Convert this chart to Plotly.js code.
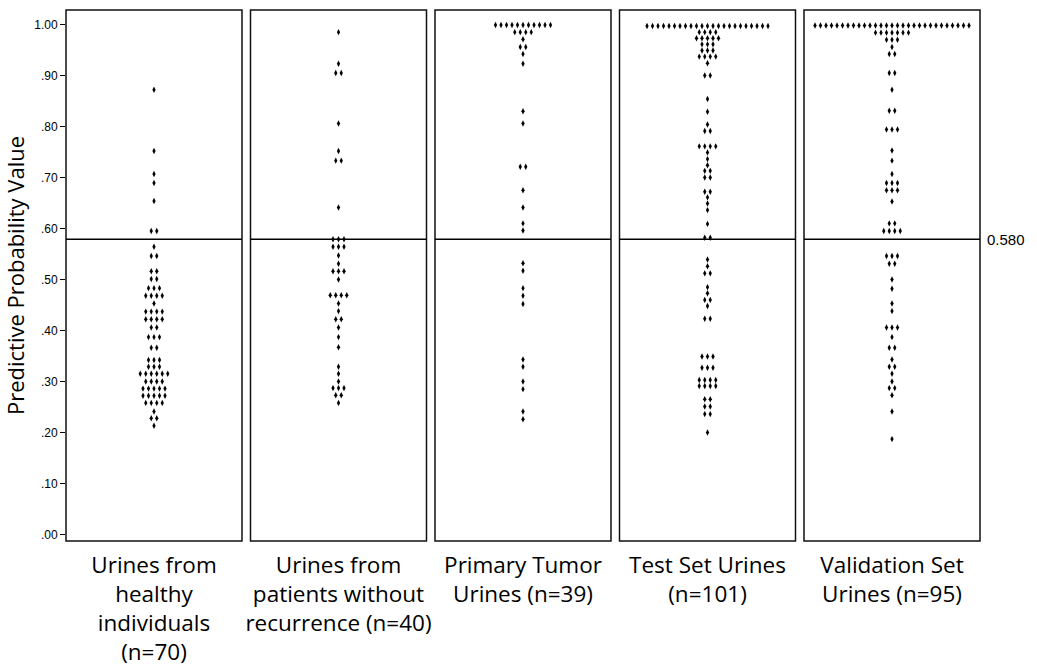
<!DOCTYPE html>
<html><head><meta charset="utf-8">
<script src="https://cdn.plot.ly/plotly-3.0.1.min.js"></script>
<style>html,body{margin:0;padding:0;background:#fff}#chart{width:1037px;height:667px}</style>
</head><body><div id="chart"></div>
<script>
// ---------- DATA ----------
const categories = [
  "Urines from<br>healthy<br>individuals<br>(n=70)",
  "Urines from<br>patients without<br>recurrence (n=40)",
  "Primary Tumor<br>Urines (n=39)",
  "Test Set Urines<br>(n=101)",
  "Validation Set<br>Urines (n=95)"
];

const healthyValues = [
  0.873, 0.753, 0.708, 0.690, 0.655, 0.596, 0.596, 0.565, 0.547, 0.547,
  0.517, 0.517, 0.502, 0.502, 0.484, 0.484, 0.484, 0.469, 0.469, 0.469, 0.469,
  0.454, 0.438, 0.438, 0.438, 0.438, 0.423, 0.423, 0.423, 0.423, 0.407, 0.407,
  0.388, 0.388, 0.388, 0.367, 0.367, 0.343, 0.343, 0.343, 0.330, 0.330, 0.330,
  0.316, 0.316, 0.316, 0.316, 0.316, 0.316, 0.301, 0.301, 0.301, 0.301,
  0.287, 0.287, 0.287, 0.287, 0.287, 0.273, 0.273, 0.273, 0.273, 0.273,
  0.259, 0.259, 0.259, 0.259, 0.242, 0.229, 0.229, 0.214
];

const noRecurrenceValues = [
  0.986, 0.924, 0.906, 0.906, 0.807, 0.753, 0.734, 0.734, 0.642,
  0.580, 0.580, 0.580, 0.565, 0.565, 0.565, 0.548, 0.532, 0.517, 0.517, 0.517,
  0.501, 0.470, 0.470, 0.470, 0.470, 0.454, 0.439, 0.423, 0.423, 0.407, 0.388,
  0.368, 0.330, 0.316, 0.301, 0.288, 0.288, 0.288, 0.274, 0.274, 0.259
];

const primaryTumorValues = [
  1.000, 1.000, 1.000, 1.000, 1.000, 1.000, 1.000, 1.000, 1.000, 1.000, 1.000,
  0.986, 0.986, 0.986, 0.986, 0.972, 0.957, 0.957, 0.943, 0.924,
  0.831, 0.807, 0.722, 0.722, 0.676, 0.642, 0.611, 0.597,
  0.533, 0.518, 0.484, 0.469, 0.453, 0.344, 0.330, 0.301, 0.286, 0.242, 0.227
];

const testSetValues = [
  0.998, 0.998, 0.998, 0.998, 0.998, 0.998, 0.998, 0.998, 0.998, 0.998, 0.998, 0.998,
  0.998, 0.998, 0.998, 0.998, 0.998, 0.998, 0.998, 0.998, 0.998, 0.998, 0.998,
  0.986, 0.986, 0.986, 0.986, 0.974, 0.974, 0.974, 0.974, 0.974,
  0.962, 0.962, 0.962, 0.950, 0.950, 0.950, 0.938, 0.938, 0.938, 0.938,
  0.925, 0.901, 0.901, 0.855, 0.830, 0.805, 0.792, 0.792,
  0.762, 0.762, 0.762, 0.762, 0.750, 0.737, 0.725, 0.714, 0.714, 0.701, 0.701,
  0.673, 0.673, 0.662, 0.650, 0.637, 0.610, 0.583, 0.583,
  0.540, 0.527, 0.513, 0.513, 0.486, 0.474, 0.461, 0.461, 0.449, 0.424, 0.424,
  0.350, 0.350, 0.350, 0.328, 0.328, 0.328, 0.304, 0.304, 0.304, 0.304,
  0.292, 0.292, 0.292, 0.292, 0.266, 0.266, 0.252, 0.252, 0.237, 0.237, 0.201
];

const validationSetValues = [
  0.999, 0.999, 0.999, 0.999, 0.999, 0.999, 0.999, 0.999, 0.999, 0.999,
  0.999, 0.999, 0.999, 0.999, 0.999, 0.999, 0.999, 0.999, 0.999, 0.999,
  0.999, 0.999, 0.999, 0.999, 0.999, 0.999, 0.999, 0.999, 0.999,
  0.985, 0.985, 0.985, 0.985, 0.985, 0.985, 0.985, 0.971, 0.971, 0.971,
  0.957, 0.943, 0.943, 0.906, 0.906, 0.873, 0.832, 0.832, 0.795, 0.795, 0.795,
  0.754, 0.734, 0.708, 0.690, 0.690, 0.690, 0.676, 0.676, 0.676, 0.654,
  0.611, 0.611, 0.596, 0.596, 0.596, 0.596,
  0.547, 0.547, 0.547, 0.532, 0.532, 0.501, 0.483, 0.454, 0.439,
  0.407, 0.407, 0.407, 0.388, 0.367, 0.367, 0.344, 0.330, 0.330, 0.316,
  0.301, 0.288, 0.288, 0.274, 0.242, 0.188
];

const groups = [healthyValues, noRecurrenceValues, primaryTumorValues, testSetValues, validationSetValues];

const yTickValues = [0, 0.1, 0.2, 0.3, 0.4, 0.5, 0.6, 0.7, 0.8, 0.9, 1.0];
const yTickLabels = [".00", ".10", ".20", ".30", ".40", ".50", ".60", ".70", ".80", ".90", "1.00"];
const cutoffValue = 0.58;
const cutoffLabel = "0.580";
const yTitle = "Predictive Probability Value";

// ---------- LAYOUT / STYLE ----------
const DOT_SPACING = 5.5;     // px between side-by-side dots
const HALF_WIDTH = 88;       // x-range half width, in px units
const nPanels = groups.length;
const gap = 0.0093, w = (1 - gap * (nPanels - 1)) / nPanels;

// Stack equal values side by side, centred on 0 (dot plot)
function dotOffsets(vals) {
  const byVal = new Map();
  vals.forEach(v => {
    const k = v.toFixed(3);
    if (!byVal.has(k)) byVal.set(k, []);
    byVal.get(k).push(v);
  });
  const xs = [], ys = [];
  byVal.forEach(list => {
    const n = list.length;
    list.forEach((v, j) => { xs.push((j - (n - 1) / 2) * DOT_SPACING); ys.push(v); });
  });
  return {xs, ys};
}

const data = [];
const layout = {
  width: 1037, height: 667,
  margin: {l: 66, r: 57, t: 10, b: 126},
  paper_bgcolor: "#fff", plot_bgcolor: "#fff",
  showlegend: false,
  shapes: [], annotations: [],
  yaxis: {
    range: [-0.0118, 1.0294],
    tickvals: yTickValues, ticktext: yTickLabels,
    ticks: "outside", ticklen: 5, tickwidth: 1, tickcolor: "#000",
    tickfont: {family: "Liberation Sans, Arial, sans-serif", size: 12, color: "#000"},
    showgrid: false, zeroline: false, showline: false,
    title: {text: yTitle, font: {family: "Open Sans, sans-serif", size: 22, color: "#000"}, standoff: 5},
    fixedrange: true
  }
};

groups.forEach((vals, i) => {
  const ax = i === 0 ? "x" : "x" + (i + 1);
  const axKey = i === 0 ? "xaxis" : "xaxis" + (i + 1);
  const d = dotOffsets(vals);
  data.push({
    type: "scatter", mode: "markers",
    x: d.xs, y: d.ys, xaxis: ax, yaxis: "y",
    marker: {symbol: "diamond-tall", size: 4.6, color: "#000", line: {width: 0}},
    hoverinfo: "y"
  });
  const x0 = i * (w + gap);
  layout[axKey] = {
    domain: [x0, x0 + w], anchor: "y",
    range: [-HALF_WIDTH, HALF_WIDTH],
    tickvals: [0], ticktext: [categories[i]],
    ticks: "", showgrid: false, zeroline: false, showline: false,
    tickfont: {family: "Open Sans, sans-serif", size: 22.5, color: "#000"},
    ticklabelstandoff: 8,
    fixedrange: true
  };
  layout.shapes.push({
    type: "rect", xref: ax + " domain", yref: "y domain",
    x0: 0, x1: 1, y0: 0, y1: 1, line: {color: "#111", width: 1.5}, layer: "above"
  });
  layout.shapes.push({
    type: "line", xref: ax + " domain", yref: "y",
    x0: 0, x1: 1, y0: cutoffValue, y1: cutoffValue, line: {color: "#000", width: 1.6}
  });
});

layout.annotations.push({
  xref: "paper", yref: "y", x: 1, y: cutoffValue, xanchor: "left", yanchor: "middle",
  xshift: 5, text: cutoffLabel, showarrow: false,
  font: {family: "Liberation Sans, Arial, sans-serif", size: 15, color: "#000"}
});

Plotly.newPlot("chart", data, layout, {displayModeBar: false, staticPlot: true});
</script>
</body></html>
